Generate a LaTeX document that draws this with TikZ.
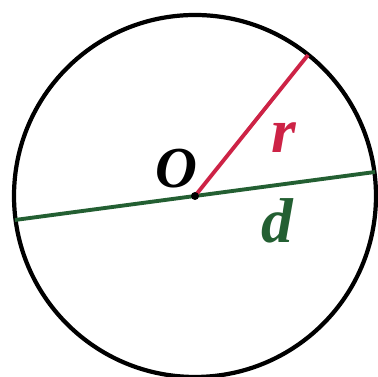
\documentclass[tikz,border=0pt]{standalone}
\usepackage{fontspec}
\setmainfont{Liberation Serif}
\definecolor{radred}{RGB}{205,35,70}
\definecolor{diagreen}{RGB}{35,95,50}
\tikzset{lbl/.style={font=\fontsize{18}{18}\selectfont\bfseries\itshape,inner sep=0pt}}

\begin{document}
\begin{tikzpicture}[x=0.01cm,y=-0.01cm]
          \useasboundingbox (0,0) rectangle (378,377);
          \coordinate (O) at (195,196);
          \coordinate (A) at (15,220);
          \coordinate (B) at (375,172);
          \coordinate (C) at (308,55);
          \draw[line width=1.2pt] (O) circle (181);
          \draw[diagreen,line width=1.1pt] (A) -- (B);
          \draw[radred,line width=1.1pt] (O) -- (C);
          \fill (O) circle (4);
          \node[lbl,font=\fontsize{16.5}{16.5}\selectfont\bfseries\itshape] (lo) at (176,169) {O};
          \node[lbl,radred] (lr) at (284,138) {r};
          \node[lbl,diagreen] (ld) at (277,221) {d};
        \end{tikzpicture}
\end{document}
